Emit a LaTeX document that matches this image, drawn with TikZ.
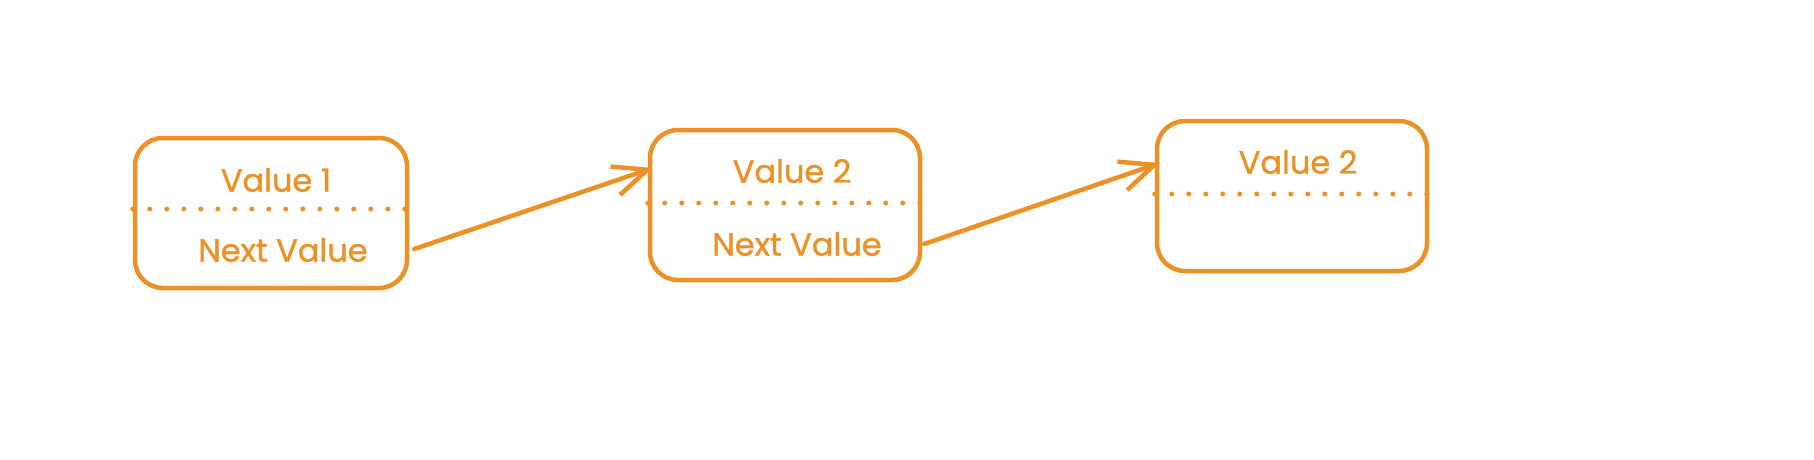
\documentclass[tikz,border=0pt]{standalone}
\usepackage{fontspec}
\setmainfont{Poppins}
\newfontfamily\hand{Poppins}[FakeBold=1.2]
\usetikzlibrary{arrows.meta,calc}
\definecolor{org}{RGB}{236,145,38}
\begin{document}
\begin{tikzpicture}[x=1pt,y=-1pt,
  box/.style={draw=org,line width=4.5pt,rounded corners=28pt,minimum width=272pt,minimum height=150pt,inner sep=0pt},
  lbl/.style={text=org,font=\hand\fontsize{32}{36}\selectfont},
  divider/.style={draw=org,line width=5pt,dash pattern=on 0pt off 17pt,line cap=round},
  link/.style={draw=org,line width=4.5pt,line cap=round,-{Straight Barb[length=34pt,width=30pt,line width=4.5pt]}}]
\useasboundingbox (0,0) rectangle (1814,460);
\fill[white] (0,0) rectangle (1814,460);
\node[box] (b1) at (271,213) {};
\node[box,minimum width=270pt] (b2) at (785,205) {};
\node[box,minimum width=270pt] (b3) at (1292,196) {};
\draw[divider] ([yshift=4pt]b1.west) -- ([yshift=4pt]b1.east);
\draw[divider] ([yshift=2pt]b2.west) -- ([yshift=2pt]b2.east);
\draw[divider] ([yshift=2pt]b3.west) -- ([yshift=2pt]b3.east);
\node[lbl] (v1) at (276,180) {Value 1};
\node[lbl] (n1) at (283,250) {Next Value};
\node[lbl] (v2) at (792,171) {Value 2};
\node[lbl] (n2) at (797,244) {Next Value};
\node[lbl] (v3) at (1298,162) {Value 2};
\coordinate (s1) at ([xshift=5pt,yshift=-36pt]b1.east);
\coordinate (e1) at ([xshift=5pt,yshift=37pt]b2.west);
\coordinate (s2) at ([xshift=2pt,yshift=-39pt]b2.east);
\coordinate (e2) at ([xshift=5pt,yshift=33pt]b3.west);
\draw[link] (s1) -- (e1);
\draw[link] (s2) -- (e2);
\end{tikzpicture}
\end{document}
